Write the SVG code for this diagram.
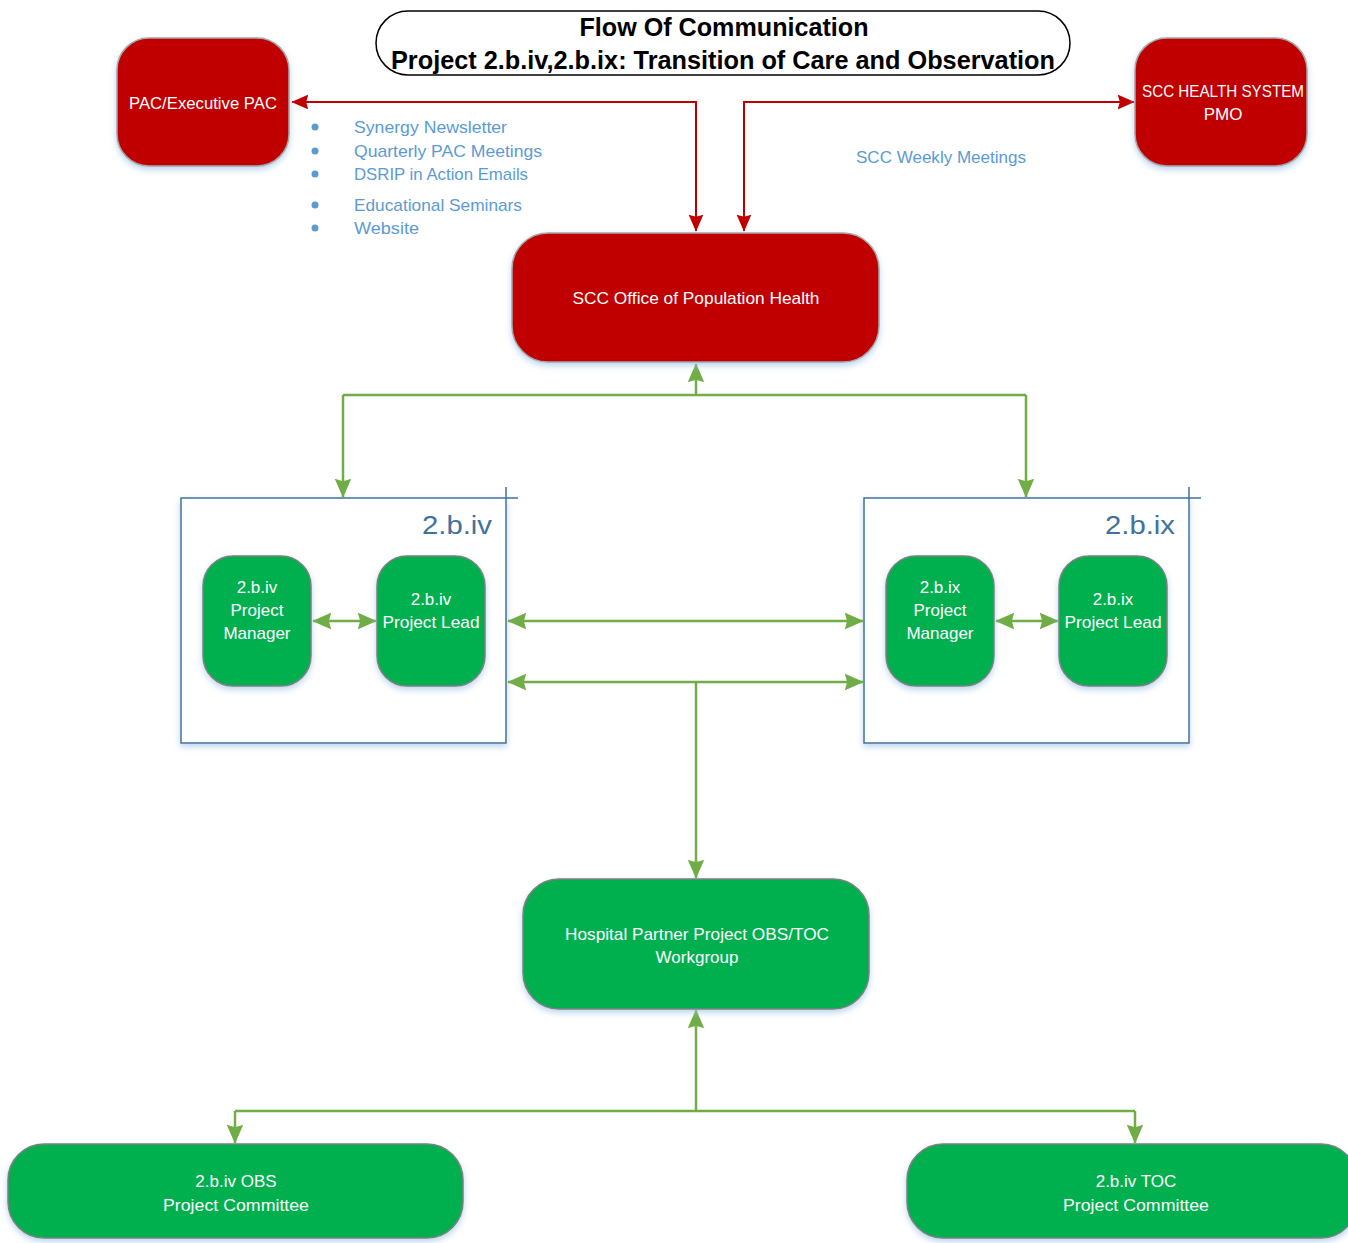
<svg xmlns="http://www.w3.org/2000/svg" width="1348" height="1243" viewBox="0 0 1348 1243">
  <defs>
    <filter id="soft" x="-10%" y="-10%" width="120%" height="130%">
      <feDropShadow dx="0" dy="3" stdDeviation="3" flood-color="#9DC3E6" flood-opacity="0.7"/>
    </filter>
    <marker id="ag" viewBox="0 0 12 12" refX="11.5" refY="6" markerWidth="19" markerHeight="19" markerUnits="userSpaceOnUse" orient="auto-start-reverse">
      <path d="M0,0.8 L12,6 L0,11.2 L1.5,6 Z" fill="#70AD47"/>
    </marker>
    <marker id="ar" viewBox="0 0 12 12" refX="11.5" refY="6" markerWidth="17" markerHeight="17" markerUnits="userSpaceOnUse" orient="auto-start-reverse">
      <path d="M0,0.8 L12,6 L0,11.2 L1.5,6 Z" fill="#C00000"/>
    </marker>
  </defs>
  <style>
    text { font-family: "Liberation Sans", Arial, sans-serif; }
    .red { fill: #C00000; stroke: #A6A6A6; stroke-width: 1.5; filter: url(#soft); }
    .grn { fill: #00B050; stroke: #7F7F7F; stroke-width: 1.5; filter: url(#soft); }
    .box { fill: #FFFFFF; stroke: #41719C; stroke-width: 1.5; filter: url(#soft); }
    .lbl { fill: #FFFFFF; font-size: 17px; text-anchor: middle; }
    .blt { fill: #5B9BD5; font-size: 17px; }
    .dot { fill: #5B9BD5; }
    .grp { fill: #41719C; font-size: 25px; text-anchor: end; }
    .ttl { fill: #000000; font-size: 25px; font-weight: bold; text-anchor: middle; }
    .cg { fill: none; stroke: #70AD47; stroke-width: 2.5; }
    .cr { fill: none; stroke: #C00000; stroke-width: 2; }
  </style>

  <!-- heading -->
  <g id="title">
    <rect x="376" y="11" width="694" height="64" rx="32" fill="#FFFFFF" stroke="#000000" stroke-width="1.5"/>
    <text class="ttl" x="724" y="36" textLength="289" lengthAdjust="spacingAndGlyphs">Flow Of Communication</text>
    <text class="ttl" x="723" y="69" textLength="664" lengthAdjust="spacingAndGlyphs">Project 2.b.iv,2.b.ix: Transition of Care and Observation</text>
  </g>

  <!-- team containers sit underneath everything else -->
  <g id="group-2biv">
    <rect class="box" x="181" y="498" width="325" height="245"/>
    <path d="M506,498 H518 M506,498 V487" fill="none" stroke="#41719C" stroke-width="1.5"/>
    <text class="grp" x="492" y="534" textLength="70" lengthAdjust="spacingAndGlyphs">2.b.iv</text>
  </g>
  <g id="group-2bix">
    <rect class="box" x="864" y="498" width="325" height="245"/>
    <path d="M1189,498 H1201 M1189,498 V487" fill="none" stroke="#41719C" stroke-width="1.5"/>
    <text class="grp" x="1175" y="534" textLength="70" lengthAdjust="spacingAndGlyphs">2.b.ix</text>
  </g>

  <!-- connectors -->
  <g id="connectors">
    <path class="cr" d="M696,231 V102 H292" marker-start="url(#ar)" marker-end="url(#ar)"/>
    <path class="cr" d="M744,231 V102 H1134" marker-start="url(#ar)" marker-end="url(#ar)"/>

    <path class="cg" d="M696,395 V364" marker-end="url(#ag)"/>
    <path class="cg" d="M343,395 H1026"/>
    <path class="cg" d="M343,395 V497" marker-end="url(#ag)"/>
    <path class="cg" d="M1026,395 V497" marker-end="url(#ag)"/>

    <path class="cg" d="M313,621 H376" marker-start="url(#ag)" marker-end="url(#ag)"/>
    <path class="cg" d="M996,621 H1058" marker-start="url(#ag)" marker-end="url(#ag)"/>

    <path class="cg" d="M508,621 H863" marker-start="url(#ag)" marker-end="url(#ag)"/>
    <path class="cg" d="M508,682 H863" marker-start="url(#ag)" marker-end="url(#ag)"/>
    <path class="cg" d="M696,682 V878" marker-end="url(#ag)"/>

    <path class="cg" d="M696,1111 V1010" marker-end="url(#ag)"/>
    <path class="cg" d="M235,1111 H1135"/>
    <path class="cg" d="M235,1111 V1143" marker-end="url(#ag)"/>
    <path class="cg" d="M1135,1111 V1143" marker-end="url(#ag)"/>
  </g>

  <!-- channel notes -->
  <g id="channels">
    <circle class="dot" cx="315" cy="127" r="3.5"/>
    <circle class="dot" cx="315" cy="151" r="3.5"/>
    <circle class="dot" cx="315" cy="174" r="3.5"/>
    <circle class="dot" cx="315" cy="205" r="3.5"/>
    <circle class="dot" cx="315" cy="228" r="3.5"/>
    <text class="blt" x="354" y="133" textLength="153" lengthAdjust="spacingAndGlyphs">Synergy Newsletter</text>
    <text class="blt" x="354" y="157" textLength="188" lengthAdjust="spacingAndGlyphs">Quarterly PAC Meetings</text>
    <text class="blt" x="354" y="180" textLength="174" lengthAdjust="spacingAndGlyphs">DSRIP in Action Emails</text>
    <text class="blt" x="354" y="211" textLength="168" lengthAdjust="spacingAndGlyphs">Educational Seminars</text>
    <text class="blt" x="354" y="234" textLength="65" lengthAdjust="spacingAndGlyphs">Website</text>
    <text class="blt" x="856" y="163" textLength="170" lengthAdjust="spacingAndGlyphs">SCC Weekly Meetings</text>
  </g>

  <g id="pac">
    <rect class="red" x="117" y="38" width="172" height="128" rx="32"/>
    <text class="lbl" x="203" y="109" textLength="148" lengthAdjust="spacingAndGlyphs">PAC/Executive PAC</text>
  </g>

  <g id="pmo">
    <rect class="red" x="1135" y="38" width="172" height="128" rx="32"/>
    <text class="lbl" x="1223" y="97" textLength="162" lengthAdjust="spacingAndGlyphs">SCC HEALTH SYSTEM</text>
    <text class="lbl" x="1223" y="120">PMO</text>
  </g>

  <g id="office">
    <rect class="red" x="512" y="233" width="367" height="129" rx="36"/>
    <text class="lbl" x="696" y="304" textLength="247" lengthAdjust="spacingAndGlyphs">SCC Office of Population Health</text>
  </g>

  <g id="pm-2biv">
    <rect class="grn" x="203" y="556" width="108" height="130" rx="30"/>
    <text class="lbl" x="257" y="593">2.b.iv</text>
    <text class="lbl" x="257" y="616">Project</text>
    <text class="lbl" x="257" y="639">Manager</text>
  </g>
  <g id="lead-2biv">
    <rect class="grn" x="377" y="556" width="108" height="130" rx="30"/>
    <text class="lbl" x="431" y="605">2.b.iv</text>
    <text class="lbl" x="431" y="628" textLength="97" lengthAdjust="spacingAndGlyphs">Project Lead</text>
  </g>

  <g id="pm-2bix">
    <rect class="grn" x="886" y="556" width="108" height="130" rx="30"/>
    <text class="lbl" x="940" y="593">2.b.ix</text>
    <text class="lbl" x="940" y="616">Project</text>
    <text class="lbl" x="940" y="639">Manager</text>
  </g>
  <g id="lead-2bix">
    <rect class="grn" x="1059" y="556" width="108" height="130" rx="30"/>
    <text class="lbl" x="1113" y="605">2.b.ix</text>
    <text class="lbl" x="1113" y="628" textLength="97" lengthAdjust="spacingAndGlyphs">Project Lead</text>
  </g>

  <g id="workgroup">
    <rect class="grn" x="523" y="879" width="346" height="130" rx="36"/>
    <text class="lbl" x="697" y="940" textLength="264" lengthAdjust="spacingAndGlyphs">Hospital Partner Project OBS/TOC</text>
    <text class="lbl" x="697" y="963">Workgroup</text>
  </g>

  <g id="obs-committee">
    <rect class="grn" x="8" y="1144" width="455" height="94" rx="36"/>
    <text class="lbl" x="236" y="1187">2.b.iv OBS</text>
    <text class="lbl" x="236" y="1211" textLength="146" lengthAdjust="spacingAndGlyphs">Project Committee</text>
  </g>

  <g id="toc-committee">
    <rect class="grn" x="907" y="1144" width="450" height="94" rx="36"/>
    <text class="lbl" x="1136" y="1187">2.b.iv TOC</text>
    <text class="lbl" x="1136" y="1211" textLength="146" lengthAdjust="spacingAndGlyphs">Project Committee</text>
  </g>
</svg>
